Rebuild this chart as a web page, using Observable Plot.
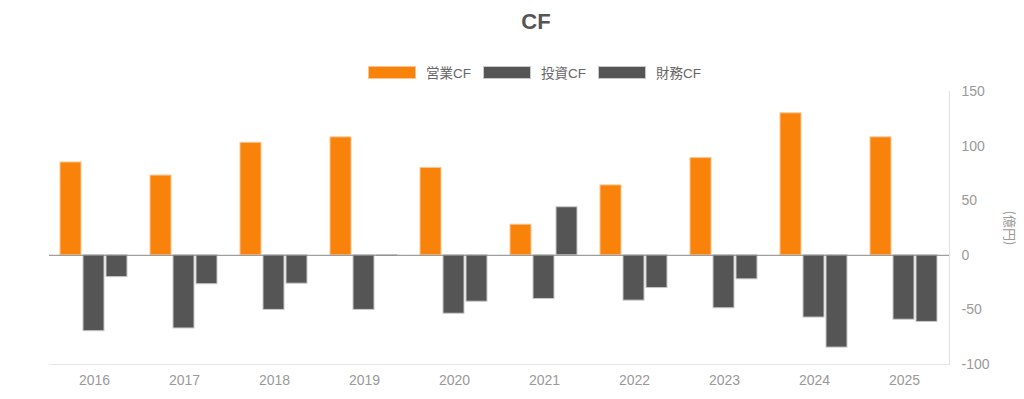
<!DOCTYPE html>
<html>
<head>
<meta charset="utf-8">
<script src="https://cdn.jsdelivr.net/npm/d3@7"></script>
<script src="https://cdn.jsdelivr.net/npm/@observablehq/plot@0.6"></script>
<style>
  html, body { margin: 0; padding: 0; background: #fff; }
  body { font-family: "Liberation Sans", Arial, "Noto Sans CJK JP", sans-serif; }
  #wrap { position: relative; width: 1024px; height: 399px; overflow: hidden; }
  #chart { position: absolute; left: 0; top: 0; }
  #title { position: absolute; top: 9px; left: 536px; transform: translateX(-50%);
           font-size: 22px; font-weight: bold; color: #555; }
  #legend { position: absolute; top: 62px; left: 368px; display: flex; align-items: center;
            font-size: 13.5px; color: #666; }
  .item { display: flex; align-items: center; margin-right: 12px; }
  .sw { width: 48px; height: 13px; margin-right: 10px; box-sizing: border-box; }
  #ylabel { position: absolute; left: 1010px; top: 228px; white-space: nowrap; line-height: 1;
            transform: translate(-50%, -50%) rotate(90deg);
            font-size: 13px; color: #999; font-family: "Noto Sans CJK JP", sans-serif; }
</style>
</head>
<body>
<div id="wrap">
  <div id="chart"></div>
  <div id="title">CF</div>
  <div id="legend"></div>
  <div id="ylabel">(億円)</div>
</div>
<script>
const years = ["2016","2017","2018","2019","2020","2021","2022","2023","2024","2025"];
const seriesNames = ["営業CF","投資CF","財務CF"];
const operatingCF = [85, 73, 103, 108, 80, 28, 64, 89, 130, 108];
const investingCF = [-69.5, -67, -50, -50, -53.5, -40, -41.5, -48.5, -57, -59];
const financingCF = [-20, -26.5, -26, -0.5, -42.5, 44, -30, -22, -84.5, -61];
const yTicks = [-100, -50, 0, 50, 100, 150];
const fillColors = {"営業CF": "#f9820b", "投資CF": "#555555", "財務CF": "#555555"};
const strokeColors = {"営業CF": "#fcc58f", "投資CF": "#c8c8c8", "財務CF": "#c8c8c8"};

const seriesValues = [operatingCF, investingCF, financingCF];
const rows = [];
years.forEach((yr, i) => {
  seriesNames.forEach((s, j) => rows.push({year: yr, series: s, value: seriesValues[j][i]}));
});

// legend
const legend = document.getElementById("legend");
seriesNames.forEach(s => {
  const it = document.createElement("div");
  it.className = "item";
  const sw = document.createElement("div");
  sw.className = "sw";
  sw.style.background = fillColors[s];
  sw.style.border = "1px solid " + strokeColors[s];
  const tx = document.createElement("span");
  tx.textContent = s;
  it.appendChild(sw); it.appendChild(tx);
  legend.appendChild(it);
});

const chart = Plot.plot({
  width: 1024,
  height: 399,
  marginTop: 91,
  marginBottom: 35,
  marginLeft: 47,
  marginRight: 74,
  style: {fontSize: "14px", fontFamily: '"Liberation Sans", Arial, "Noto Sans CJK JP", sans-serif', color: "#999", background: "transparent"},
  fx: {domain: years, padding: 0, label: null},
  x: {domain: seriesNames, paddingInner: 0.08, paddingOuter: 0.42, axis: null},
  y: {domain: [-100, 150]},
  marks: [
    Plot.ruleY([-100], {stroke: "#e6e6e6"}),
    Plot.barY(rows, {fx: "year", x: "series", y: "value",
      fill: d => fillColors[d.series], stroke: d => strokeColors[d.series], strokeWidth: 1}),
    Plot.ruleY([0], {stroke: "#888"}),
    Plot.frame({anchor: "right", facetAnchor: "right", stroke: "#e0e0e0"}),
    Plot.axisY({anchor: "right", ticks: yTicks, tickSize: 0, tickPadding: 12, fontSize: 14,
      tickFormat: d => String(d), label: null}),
    Plot.axisFx({anchor: "bottom", tickSize: 0, tickPadding: 11, fontSize: 14, label: null})
  ]
});
document.getElementById("chart").appendChild(chart);
</script>
</body>
</html>
